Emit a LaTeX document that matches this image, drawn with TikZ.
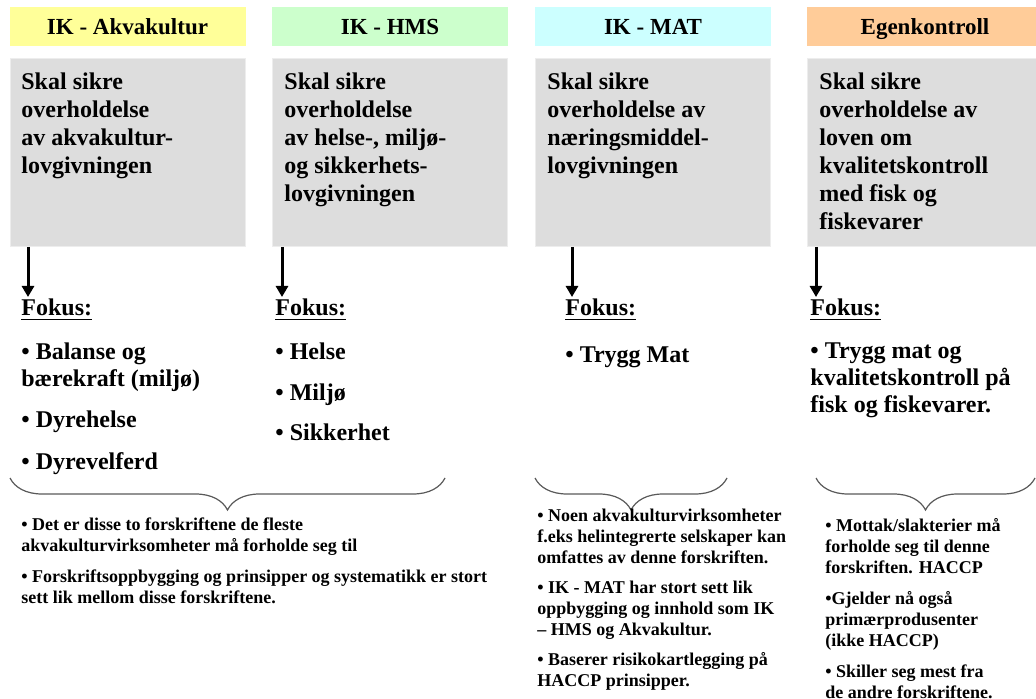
\documentclass[tikz,border=0pt]{standalone}
\usepackage{fontspec}
\setmainfont{Liberation Serif}
\usetikzlibrary{arrows.meta,decorations.pathreplacing}

\definecolor{gul}{HTML}{FFFF99}
\definecolor{gronn}{HTML}{CCFFCC}
\definecolor{turkis}{HTML}{CCFFFF}
\definecolor{oransje}{HTML}{FFCC99}
\definecolor{graa}{HTML}{DDDDDD}

\begin{document}
\begin{tikzpicture}[x=0.5pt,y=-0.5pt,
    hode/.style={minimum width=118pt,minimum height=19.5pt,inner sep=0pt,
        text height=9pt,text depth=1pt,
        font=\bfseries\fontsize{11.5}{13}\selectfont},
    boks/.style={fill=graa,draw=black!7,line width=0.5pt,anchor=north west,
        minimum width=117.5pt,minimum height=94pt,inner sep=0pt},
    tekst/.style={anchor=north west,align=left,inner sep=0pt,
        font=\bfseries\fontsize{12}{14}\selectfont,
        execute at begin node={\rule{0pt}{10pt}}},
    fokus/.style={anchor=base west,inner sep=0pt,
        font=\bfseries\fontsize{12}{14}\selectfont},
    punkt/.style={tekst,font=\bfseries\fontsize{12}{13.5}\selectfont},
    merk/.style={anchor=north west,align=left,inner sep=0pt,
        font=\bfseries\fontsize{9}{10.5}\selectfont,
        execute at begin node={\rule{0pt}{7.5pt}}},
    pil/.style={line width=1.5pt,-{Triangle[width=6pt,length=5.5pt]}},
    klamme/.style={draw=black!65,line width=0.6pt,decorate,
        decoration={brace,mirror,amplitude=16pt}}]

    \useasboundingbox (0,0) rectangle (1036,699);

    % Overskrifter
    \node[hode,fill=gul] (hode1) at (127.5,26.5) {IK - Akvakultur};
    \node[hode,fill=gronn] (hode2) at (390,26.5) {IK - HMS};
    \node[hode,fill=turkis] (hode3) at (653,26.5) {IK - MAT};
    \node[hode,fill=oransje] (hode4) at (925,26.5) {Egenkontroll};

    % Grå bokser
    \node[boks] (boks1) at (10,58) {};
    \node[boks] (boks2) at (272,58) {};
    \node[boks] (boks3) at (535,58) {};
    \node[boks] (boks4) at (807,58) {};

    \node[tekst] (tekst1) at (21,72) {Skal sikre\\ overholdelse\\ av akvakultur-\\ lovgivningen};
    \node[tekst] (tekst2) at (284,72) {Skal sikre\\ overholdelse\\ av helse-, miljø-\\ og sikkerhets-\\ lovgivningen};
    \node[tekst] (tekst3) at (547,72) {Skal sikre\\ overholdelse av\\ næringsmiddel-\\ lovgivningen};
    \node[tekst] (tekst4) at (819,72) {Skal sikre\\ overholdelse av\\ loven om\\ kvalitetskontroll\\ med fisk og\\ fiskevarer};

    % Fokus
    \node[fokus] (fokus1) at (21,316) {\underline{Fokus:}};
    \node[fokus] (fokus2) at (275,316) {\underline{Fokus:}};
    \node[fokus] (fokus3) at (565,316) {\underline{Fokus:}};
    \node[fokus] (fokus4) at (810,316) {\underline{Fokus:}};

    % Piler
    \foreach \i/\x in {1/28,2/282,3/572,4/816} {
        \coordinate (pil\i) at (\x,297);
        \draw[pil] (boks\i.south -| pil\i) -- (pil\i);
    }

    \node[punkt] (punkt1) at (21,342) {• Balanse og\\ bærekraft (miljø)\\[7pt] • Dyrehelse\\[7.5pt] • Dyrevelferd};
    \node[punkt] (punkt2) at (275,342) {• Helse\\[7pt] • Miljø\\[6.5pt] • Sikkerhet};
    \node[punkt] (punkt3) at (565,342) {• Trygg Mat};
    \node[punkt] (punkt4) at (810,342) {• Trygg mat og\\ kvalitetskontroll på\\ fisk og fiskevarer.};

    % Klammer
    \draw[klamme] (10,478) -- (445,478);
    \draw[klamme] (535,478) -- (727,478);
    \draw[klamme] (816,478) -- (1035,478);

    \node[merk] (merk1) at (21,517) {• Det er disse to forskriftene de fleste\\ akvakulturvirksomheter må forholde seg til\\[5pt] • Forskriftsoppbygging og prinsipper og systematikk er stort\\ sett lik mellom disse forskriftene.};
    \node[merk] (merk3) at (537,509) {• Noen akvakulturvirksomheter\\ f.eks helintegrerte selskaper kan\\ omfattes av denne forskriften.\\[4.5pt] • IK - MAT har stort sett lik\\ oppbygging og innhold som IK\\ – HMS og Akvakultur.\\[4.5pt] • Baserer risikokartlegging på\\ HACCP prinsipper.};
    \node[merk] (merk4) at (825,518) {• Mottak/slakterier må\\ forholde seg til denne\\ forskriften. HACCP\\[5pt] •Gjelder nå også\\ primærprodusenter\\ (ikke HACCP)\\[5pt] • Skiller seg mest fra\\ de andre forskriftene.};
\end{tikzpicture}
\end{document}
